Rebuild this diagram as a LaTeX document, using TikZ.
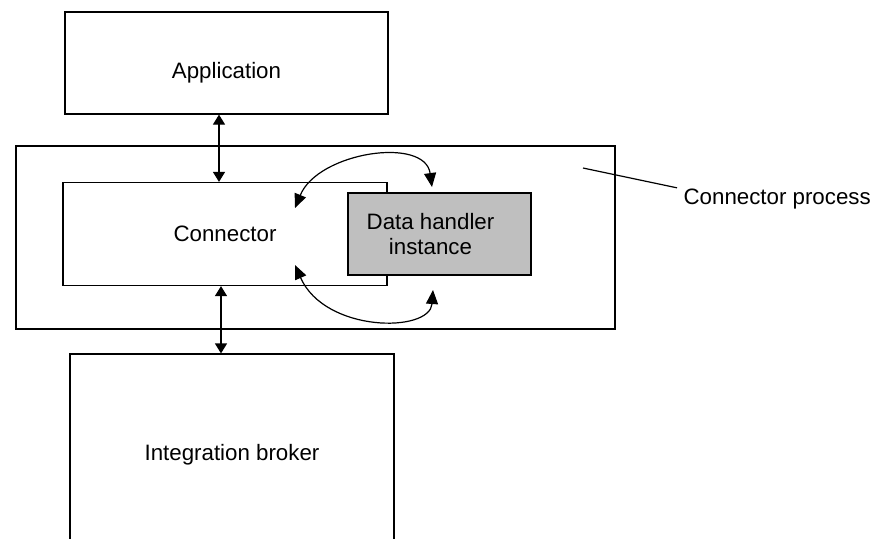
\documentclass[tikz,border=0pt]{standalone}
\usepackage{fontspec}
\setmainfont{Liberation Sans}
\usetikzlibrary{arrows.meta}
\newcommand{\lbltext}{\fontsize{11.15}{12.5}\selectfont}

\begin{document}
\begin{tikzpicture}[x=0.5pt, y=-0.5pt, line width=0.6pt,
  every node/.style={font=\lbltext},
  every label/.style={font=\lbltext},
  box/.style={draw, rectangle, inner sep=0pt},
  vtip/.style={{Triangle[length=5pt,width=6pt]}-{Triangle[length=5pt,width=6pt]}},
  ctip/.style={{Triangle[length=7pt,width=6pt]}-{Triangle[length=7pt,width=6pt]}},
  ]
  \useasboundingbox (0,0) rectangle (874,538);
  \clip (0,0) rectangle (874,538);
  % boxes
  \node [box, minimum width=299.5pt, minimum height=91.5pt] (proc) at (315.5,237.5) {};
  \node [box, minimum width=162pt, minimum height=51.5pt] (conn) at (225,234) {Connector};
  \node [box, fill=black!25, minimum width=91.5pt, minimum height=41pt,
    label={[align=center, xshift=-4.5pt]center:Data handler\\instance}] (dh) at (439.5,234) {};
  \node [box, minimum width=161.5pt, minimum height=51pt,
    label={[yshift=-4.8pt]center:Application}] (app) at (226.5,63) {};
  \node [box, minimum width=162pt, minimum height=98pt,
    label={[yshift=-1.6pt]center:Integration broker}] (broker) at (232,452) {};
  % label of the process box
  \node [anchor=base west, inner sep=0pt] (lbl) at (683,204) {Connector process};
  \coordinate (ptr) at (583,168);
  \draw (ptr) -- ([xshift=-3pt]lbl.north west);
  % links
  \draw [vtip] ([xshift=-3.75pt]app.south) -- ([xshift=-3.75pt]app.south |- conn.north);
  \draw [vtip] ([xshift=-2pt]conn.south) -- ([xshift=-2pt]conn.south |- broker.north);
  \coordinate (c1) at (295,208);
  \coordinate (c2) at (432,187);
  \coordinate (c3) at (295,265);
  \coordinate (c4) at (433,290);
  \draw [ctip] (c1) .. controls (318,152) and (425,136) .. (c2);
  \draw [ctip] (c3) .. controls (325,333) and (430,333) .. (c4);
\end{tikzpicture}
\end{document}
